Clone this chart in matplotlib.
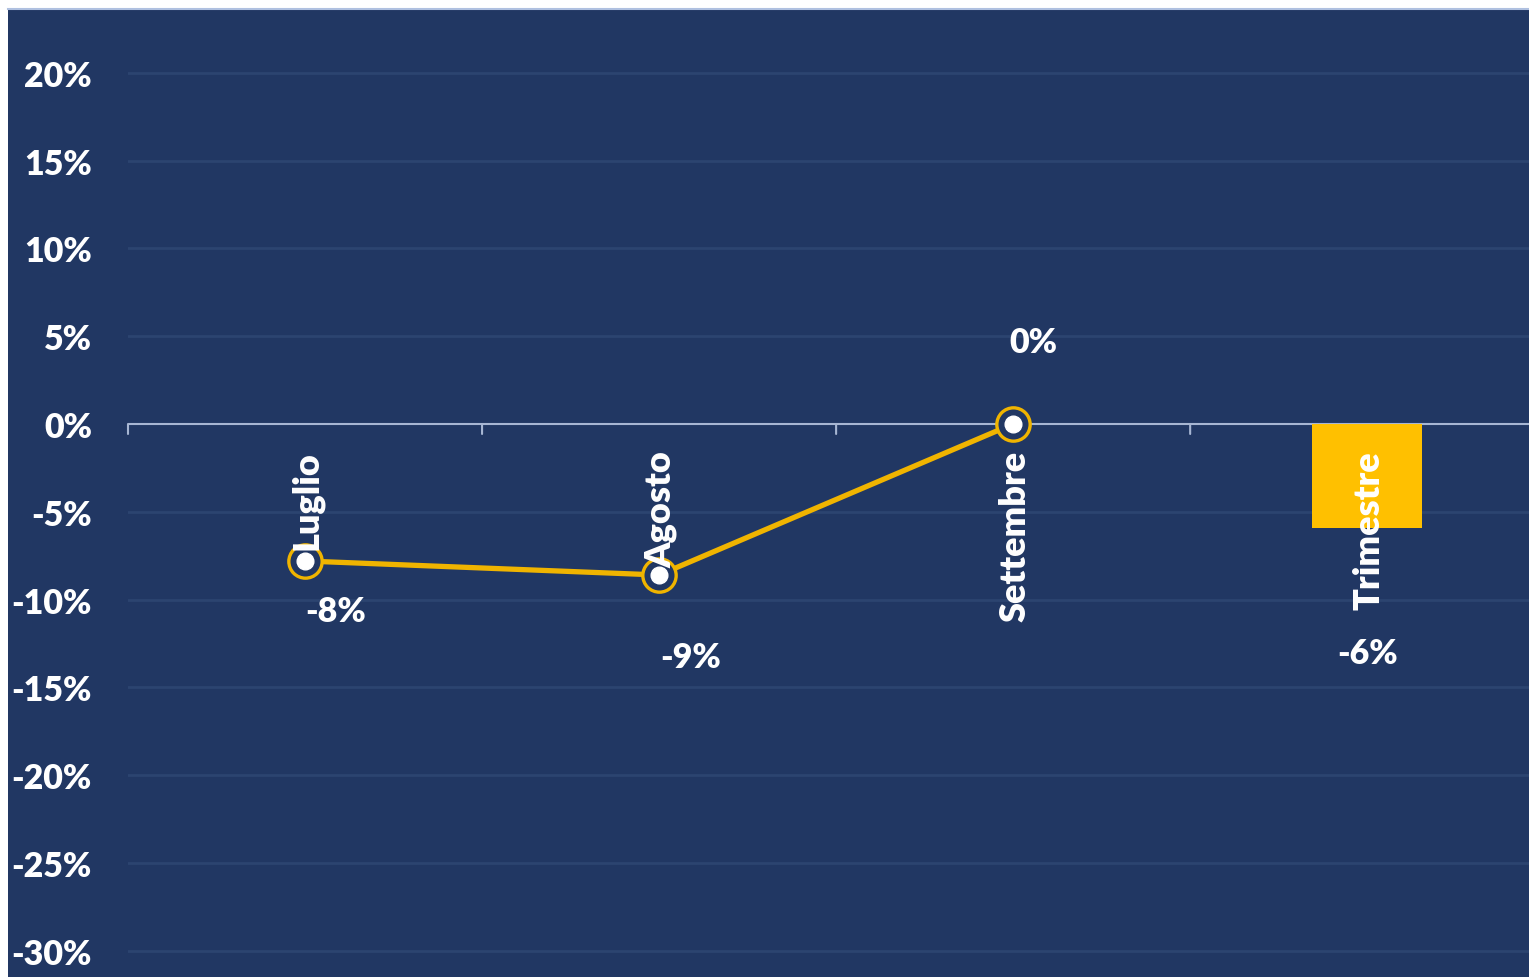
import matplotlib
matplotlib.use("Agg")
import matplotlib.pyplot as plt
from matplotlib.patches import Rectangle
from matplotlib.lines import Line2D

# Monthly change and quarterly total (%)
months = ["Luglio", "Agosto", "Settembre"]
month_values = [-7.8, -8.6, 0.0]
quarter_label = "Trimestre"
quarter_value = -5.9
y_ticks = [20, 15, 10, 5, 0, -5, -10, -15, -20, -25, -30]

NAVY = "#213763"
GRID = "#2C4470"
ZERO = "#A7B6D3"
LINE_GOLD = "#F0B400"
BAR_GOLD = "#FFC000"
FONT = "Lato"

W, H, DPI = 1529, 978, 100
fig = plt.figure(figsize=(W / DPI, H / DPI), dpi=DPI, facecolor="white")

# Navy panel with a thin light rim at its top edge (drawn beneath the axes)
fig.patches.append(Rectangle((8 / W, 0), 1 - 8 / W, 1 - 10 / H,
                             transform=fig.transFigure, facecolor=NAVY,
                             edgecolor="none", zorder=-2))
fig.lines.append(Line2D([8 / W, 1], [1 - 10 / H, 1 - 10 / H],
                        transform=fig.transFigure, color="#AFC0E0",
                        linewidth=1.5, zorder=-1))

left = 128 / W
ax = fig.add_axes([left, 0, 1 - left, 1 - 10 / H])
ax.set_zorder(1)
ax.set_facecolor("none")
ax.set_xlim(-0.5, 3.457)
ax.set_ylim(-31.49, 23.63)

for s in ax.spines.values():
    s.set_visible(False)

# Horizontal gridlines
for v in y_ticks:
    if v != 0:
        ax.axhline(v, color=GRID, linewidth=2.0, zorder=1)
ax.axhline(0, color=ZERO, linewidth=1.5, zorder=2)

# Category boundary ticks hanging from the zero line
for b in [-0.5, 0.5, 1.5, 2.5]:
    ax.annotate("", xy=(b, 0), xytext=(0, -10), textcoords="offset pixels",
                arrowprops=dict(arrowstyle="-", color=ZERO, lw=1.5,
                                shrinkA=0, shrinkB=0), zorder=2)

ax.set_yticks(y_ticks)
ax.set_yticklabels([f"{v}%" for v in y_ticks])
ax.tick_params(axis="y", length=0, pad=26, labelcolor="white",
               labelsize=24.5)
for lab in ax.get_yticklabels():
    lab.set_fontfamily(FONT)
    lab.set_fontweight("heavy")
ax.set_xticks([])

xs = list(range(len(months)))
xq = len(months)

# Quarterly bar
ax.bar([xq], [quarter_value], width=0.31, color=BAR_GOLD, zorder=3)

# Monthly line with ringed markers
ax.plot(xs, month_values, color=LINE_GOLD, linewidth=3.8, zorder=4,
        solid_capstyle="round")
ax.plot(xs, month_values, linestyle="none", marker="o", markersize=24,
        markerfacecolor=NAVY, markeredgecolor=LINE_GOLD,
        markeredgewidth=2.4, zorder=5)
ax.plot(xs, month_values, linestyle="none", marker="o", markersize=12,
        markerfacecolor="white", markeredgecolor="white", zorder=6)

txt = dict(color="white", fontweight="heavy", family=FONT)

# Rotated category names just under the zero line
for x, name in zip(xs + [xq], months + [quarter_label]):
    ax.annotate(name, xy=(x, 0), xytext=(2, -26), textcoords="offset pixels",
                rotation=90, ha="center", va="top", zorder=8, fontsize=26,
                **txt)

# Value labels
label_offsets = [(31, -50), (32, -82), (20, 82)]
for x, v, off in zip(xs, month_values, label_offsets):
    ax.annotate(f"{round(v):.0f}%", xy=(x, v), xytext=off,
                textcoords="offset pixels", ha="center", va="center",
                zorder=8, fontsize=24.5, **txt)
ax.annotate(f"{round(quarter_value):.0f}%", xy=(xq, quarter_value),
            xytext=(0, -125), textcoords="offset pixels",
            ha="center", va="center", zorder=8, fontsize=24.5, **txt)

fig.savefig("out.png", dpi=DPI, facecolor="white")
